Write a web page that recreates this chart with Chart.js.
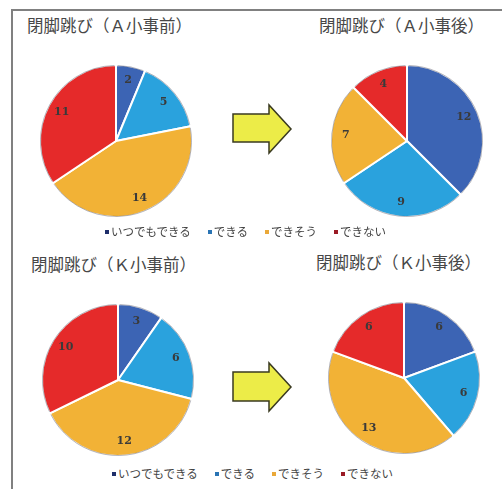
<!DOCTYPE html>
<html>
<head>
<meta charset="utf-8">
<script src="https://cdn.jsdelivr.net/npm/chart.js@4"></script>
<style>
  body { margin: 0; background: #fff; }
  #wrap { position: relative; width: 502px; height: 489px; overflow: hidden; font-family: "Noto Sans CJK JP", sans-serif; }
  #frame { position: absolute; left: 11px; top: 9px; width: 600px; height: 600px; border-left: 2px solid #808080; border-top: 2px solid #808080; }
  .title { position: absolute; font-size: 16.5px; color: #474747; white-space: nowrap; line-height: 1; }
  .pie { position: absolute; }
  .legend { position: absolute; font-size: 11.5px; color: #444; white-space: nowrap; line-height: 1; }
  .legend span.mk { display: inline-block; width: 4px; height: 4px; margin-right: 2px; vertical-align: middle; position: relative; top: -1px; }
  .legend span.it { margin-right: 17px; }
  svg { position: absolute; left: 0; top: 0; }
</style>
</head>
<body>
<div id="wrap">
  <div id="frame"></div>
  <svg width="502" height="489">
    <!-- 矢印 -->
    <polygon points="233,114 269,114 269,105 291,129 269,153 269,142 233,142" fill="#ecec48" stroke="#3a3a20" stroke-width="1.5"/>
    <polygon points="233,372 269,372 269,363 291,387 269,411 269,401 233,401" fill="#ecec48" stroke="#3a3a20" stroke-width="1.5"/>
  </svg>
</div>
<script>
// 区分
const categories = ['いつでもできる', 'できる', 'できそう', 'できない'];

// 人数
const aBefore = [2, 5, 14, 11];
const aAfter = [12, 9, 7, 4];
const kBefore = [3, 6, 12, 10];
const kAfter = [6, 6, 13, 6];

const titles = ['閉脚跳び（Ａ小事前）', '閉脚跳び（Ａ小事後）', '閉脚跳び（Ｋ小事前）', '閉脚跳び（Ｋ小事後）'];

const sliceColors = ['#3c64b4', '#2aa2dd', '#f2b236', '#e52a2a'];
const markColors = ['#1e2e6a', '#2a74b4', '#eaa838', '#9a1a24'];

const wrap = document.getElementById('wrap');

// 値ラベル
const valueLabels = {
  id: 'valueLabels',
  afterDatasetsDraw(chart) {
    const ctx = chart.ctx;
    const meta = chart.getDatasetMeta(0);
    const data = chart.data.datasets[0].data;
    ctx.save();
    ctx.font = 'bold 11px "DejaVu Serif", serif';
    ctx.fillStyle = '#3a3a3a';
    ctx.textAlign = 'center';
    ctx.textBaseline = 'middle';
    meta.data.forEach((arc, i) => {
      const p = arc.getProps(['x', 'y', 'startAngle', 'endAngle', 'outerRadius'], true);
      const mid = (p.startAngle + p.endAngle) / 2;
      const r = p.outerRadius * 0.81;
      ctx.fillText(data[i], p.x + Math.cos(mid) * r, p.y + Math.sin(mid) * r);
    });
    ctx.restore();
  }
};

// 外周の縁取り
const rim = {
  id: 'rim',
  afterDatasetsDraw(chart) {
    const ctx = chart.ctx;
    const meta = chart.getDatasetMeta(0);
    ctx.save();
    ctx.lineWidth = 1;
    ctx.strokeStyle = 'rgba(40,40,60,0.35)';
    meta.data.forEach(arc => {
      const p = arc.getProps(['x', 'y', 'startAngle', 'endAngle', 'outerRadius'], true);
      ctx.beginPath();
      ctx.arc(p.x, p.y, p.outerRadius - 0.5, p.startAngle + 0.02, p.endAngle - 0.02);
      ctx.stroke();
    });
    ctx.restore();
  }
};

function addText(cls, html, left, top) {
  const d = document.createElement('div');
  d.className = cls;
  d.innerHTML = html;
  d.style.left = left + 'px';
  d.style.top = top + 'px';
  wrap.appendChild(d);
}

function makePie(values, cx, cy) {
  const size = 170;
  const c = document.createElement('canvas');
  c.className = 'pie';
  c.width = size;
  c.height = size;
  c.style.left = (cx - size / 2) + 'px';
  c.style.top = (cy - size / 2) + 'px';
  wrap.appendChild(c);
  new Chart(c.getContext('2d'), {
    type: 'pie',
    data: {
      labels: categories,
      datasets: [{
        data: values,
        backgroundColor: sliceColors,
        borderColor: '#ffffff',
        borderWidth: 2
      }]
    },
    options: {
      responsive: false,
      animation: false,
      radius: 76,
      layout: { padding: 0 },
      plugins: { legend: { display: false }, tooltip: { enabled: false } }
    },
    plugins: [rim, valueLabels]
  });
}

function legendHtml() {
  return categories.map((c, i) =>
    '<span class="it"><span class="mk" style="background:' + markColors[i] + '"></span>' + c + '</span>'
  ).join('');
}

addText('title', titles[0], 27, 17);
addText('title', titles[1], 319, 17);
addText('title', titles[2], 31, 256);
addText('title', titles[3], 316, 254);

makePie(aBefore, 116, 141);
makePie(aAfter, 407, 141);
makePie(kBefore, 118, 380);
makePie(kAfter, 404, 378);

addText('legend', legendHtml(), 105, 226);
addText('legend', legendHtml(), 112, 468);
</script>
</body>
</html>
